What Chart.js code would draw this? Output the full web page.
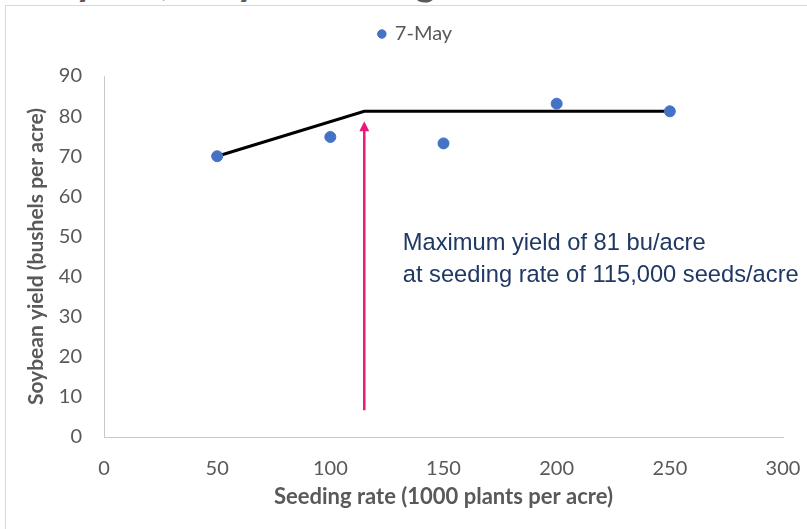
<!DOCTYPE html>
<html>
<head>
<meta charset="utf-8">
<script src="https://cdn.jsdelivr.net/npm/chart.js@4.4.1/dist/chart.umd.min.js"></script>
<style>
  html, body { margin: 0; padding: 0; background: #fff; overflow: hidden; }
  #title { position: absolute; left: -86px; top: -40px; font: bold 40px Lato; line-height: 40px; color: #595959; white-space: nowrap; }
  #frame { position: absolute; left: 5px; top: 5px; width: 830px; height: 560px; border: 1px solid #d9d9d9; }
  #wrap { position: absolute; left: 0; top: 0; width: 807px; height: 529px; }
</style>
</head>
<body>
<div id="title">Soybean yield, May 7 seeding</div>
<div id="frame"></div>
<div id="wrap"><canvas id="chart"></canvas></div>
<script>
// data
const seedingRate = [50, 100, 150, 200, 250];
const yieldMay7   = [70.0, 74.8, 73.2, 83.1, 81.2];
const plateauX    = [50, 115, 250];
const plateauY    = [70.0, 81.2, 81.2];
const arrowX      = [115, 115];
const arrowY      = [6.7, 78.7];
const xTicks      = [0, 50, 100, 150, 200, 250, 300];
const yTicks      = [0, 10, 20, 30, 40, 50, 60, 70, 80, 90];
const noteLines   = ['Maximum yield of 81 bu/acre', 'at seeding rate of 115,000 seeds/acre'];

const grey = '#595959';

// arrow + text note, placed with the chart scales
const notePlugin = {
  id: 'note',
  afterDatasetsDraw(chart) {
    const { ctx, scales: { x, y } } = chart;
    const ax = x.getPixelForValue(arrowX[0]);
    const y0 = y.getPixelForValue(arrowY[0]);
    const y1 = y.getPixelForValue(arrowY[1]);
    ctx.save();
    ctx.strokeStyle = '#e8197c';
    ctx.fillStyle = '#e8197c';
    ctx.lineWidth = 2.5;
    ctx.beginPath();
    ctx.moveTo(ax, y0);
    ctx.lineTo(ax, y1 + 8);
    ctx.stroke();
    ctx.beginPath();
    ctx.moveTo(ax, y1);
    ctx.lineTo(ax - 5, y1 + 10);
    ctx.lineTo(ax + 5, y1 + 10);
    ctx.closePath();
    ctx.fill();

    ctx.font = '23.7px "Liberation Sans"';
    ctx.fillStyle = '#1f3864';
    ctx.textBaseline = 'middle';
    const nx = x.getPixelForValue(132);
    const ny = y.getPixelForValue(48.2);
    noteLines.forEach((t, i) => ctx.fillText(t, nx, ny + i * 31.5));
    ctx.restore();
  }
};

new Chart(document.getElementById('chart'), {
  type: 'scatter',
  data: {
    datasets: [
      {
        label: '7-May',
        data: seedingRate.map((v, i) => ({ x: v, y: yieldMay7[i] })),
        backgroundColor: '#4472c4',
        borderColor: '#4472c4',
        pointRadius: 5.5,
        pointHoverRadius: 5.5,
        order: 0
      },
      {
        label: 'plateau',
        type: 'line',
        data: plateauX.map((v, i) => ({ x: v, y: plateauY[i] })),
        borderColor: '#000',
        borderWidth: 3,
        pointRadius: 0,
        fill: false,
        tension: 0,
        order: 1
      }
    ]
  },
  options: {
    responsive: true,
    maintainAspectRatio: false,
    animation: false,
    layout: { padding: { left: 48, right: 24, top: 14, bottom: 0 } },
    plugins: {
      legend: {
        position: 'top',
        labels: {
          usePointStyle: true,
          pointStyle: 'circle',
          boxWidth: 6,
          boxHeight: 6,
          padding: 10,
          color: grey,
          font: { family: 'Lato', size: 20 },
          filter: item => item.datasetIndex === 0
        }
      },
      subtitle: { display: true, text: '', weight: 500, font: { size: 10 }, padding: { top: 0, bottom: 10 } },
      tooltip: { enabled: false }
    },
    scales: {
      x: {
        type: 'linear',
        min: 0, max: 300,
        afterBuildTicks: s => { s.ticks = xTicks.map(v => ({ value: v })); },
        afterFit: s => { s.height = 92; },
        grid: { display: false, drawTicks: true, tickLength: 18 },
        border: { display: true, color: '#c9c9c9', width: 1 },
        ticks: { color: grey, padding: 2, font: { family: 'Lato', size: 20 } },
        title: {
          display: true,
          text: 'Seeding rate (1000 plants per acre)',
          color: grey,
          font: { family: 'Lato', size: 22, weight: 'bold' },
          padding: { top: 0, bottom: 19 }
        }
      },
      y: {
        type: 'linear',
        min: 0, max: 90,
        afterBuildTicks: s => { s.ticks = yTicks.map(v => ({ value: v })); },
        afterFit: s => { s.width = 56; },
        grid: { display: false, drawTicks: true, tickLength: 20 },
        border: { display: true, color: '#c9c9c9', width: 1 },
        ticks: { color: grey, padding: 2, font: { family: 'Lato', size: 20 } },
        title: {
          display: true,
          text: 'Soybean yield (bushels per acre)',
          color: grey,
          font: { family: 'Lato', size: 21, weight: 'bold' },
          padding: { top: -24, bottom: 0 }
        }
      }
    }
  },
  plugins: [notePlugin]
});
</script>
</body>
</html>
